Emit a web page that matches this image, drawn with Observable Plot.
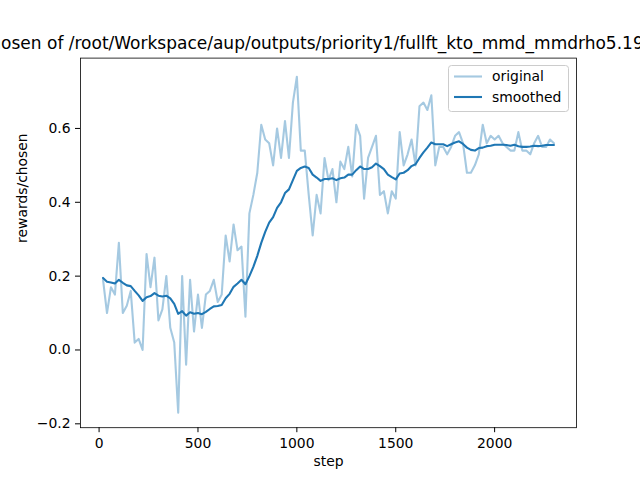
<!DOCTYPE html>
<html>
<head>
<meta charset="utf-8">
<script src="https://cdn.jsdelivr.net/npm/d3@7"></script>
<script src="https://cdn.jsdelivr.net/npm/@observablehq/plot@0.6"></script>
<style>
  body { margin: 0; background: #fff; overflow: hidden; }
  #chart svg { overflow: hidden; }
</style>
</head>
<body>
<div id="chart"></div>
<script>
const steps = [20,40,60,80,100,120,140,160,180,200,220,240,260,280,300,320,340,360,380,400,
  420,440,460,480,500,520,540,560,580,600,620,640,660,680,700,720,740,760,780,800,
  820,840,860,880,900,920,940,960,980,1000,1020,1040,1060,1080,1100,1120,1140,1160,1180,1200,
  1220,1240,1260,1280,1300,1320,1340,1360,1380,1400,1420,1440,1460,1480,1500,1520,1540,1560,1580,1600,
  1620,1640,1660,1680,1700,1720,1740,1760,1780,1800,1820,1840,1860,1880,1900,1920,1940,1960,1980,2000,
  2020,2040,2060,2080,2100,2120,2140,2160,2180,2200,2220,2240,2260,2280,2300];

const original = [0.19,0.10,0.17,0.15,0.29,0.10,0.12,0.16,0.02,0.03,
  0.00,0.26,0.17,0.25,0.08,0.11,0.20,0.06,0.02,-0.17,
  0.20,-0.04,0.19,0.05,0.15,0.06,0.15,0.16,0.19,0.13,
  0.15,0.31,0.24,0.34,0.27,0.28,0.09,0.37,0.42,0.48,
  0.61,0.57,0.56,0.50,0.60,0.52,0.62,0.52,0.67,0.74,
  0.54,0.54,0.42,0.31,0.42,0.37,0.52,0.46,0.49,0.40,
  0.51,0.49,0.55,0.47,0.61,0.58,0.41,0.52,0.55,0.58,
  0.42,0.43,0.37,0.43,0.41,0.59,0.50,0.53,0.57,0.50,
  0.66,0.67,0.65,0.69,0.50,0.55,0.55,0.53,0.55,0.58,
  0.59,0.56,0.48,0.48,0.50,0.53,0.61,0.56,0.58,0.57,
  0.58,0.56,0.55,0.54,0.54,0.59,0.54,0.54,0.53,0.56,
  0.58,0.55,0.55,0.57,0.56];

const smoothed = [0.195,0.185,0.183,0.180,0.190,0.182,0.175,0.173,0.160,0.148,
  0.133,0.143,0.146,0.154,0.147,0.145,0.147,0.140,0.125,0.098,
  0.105,0.093,0.102,0.098,0.100,0.097,0.103,0.111,0.118,0.119,
  0.122,0.140,0.152,0.171,0.180,0.190,0.178,0.200,0.225,0.255,
  0.290,0.320,0.345,0.360,0.385,0.400,0.425,0.435,0.460,0.485,
  0.493,0.497,0.493,0.475,0.467,0.458,0.463,0.463,0.465,0.460,
  0.465,0.467,0.475,0.475,0.487,0.497,0.490,0.490,0.495,0.505,
  0.498,0.490,0.475,0.468,0.462,0.478,0.480,0.487,0.498,0.503,
  0.520,0.535,0.548,0.562,0.557,0.557,0.557,0.552,0.557,0.562,
  0.565,0.558,0.548,0.542,0.540,0.547,0.548,0.552,0.553,0.556,
  0.556,0.556,0.555,0.553,0.556,0.552,0.550,0.550,0.551,0.553,
  0.552,0.553,0.555,0.555,0.555];

const xTicks = [0, 500, 1000, 1500, 2000];
const yTicks = [-0.2, 0.0, 0.2, 0.4, 0.6];
const title = "rewards/chosen of /root/Workspace/aup/outputs/priority1/fullft_kto_mmd_mmdrho5.19";

const data = steps.map((s, i) => ({step: s, original: original[i], smoothed: smoothed[i]}));
const blue = "#1f77b4";

const chart = Plot.plot({
  width: 640,
  height: 480,
  marginLeft: 80,
  marginRight: 64,
  marginTop: 57.6,
  marginBottom: 52.8,
  style: {fontFamily: "DejaVu Sans", fontSize: "13.9px", color: "black", background: "white"},
  x: {domain: [-94, 2414], ticks: xTicks, tickFormat: d3.format("d"), tickSize: 5, tickPadding: 5, label: null},
  y: {domain: [-0.2105, 0.7905], ticks: yTicks, tickFormat: d3.format(".1f"), tickSize: 5, tickPadding: 5, label: null},
  marks: [
    Plot.line(data, {x: "step", y: "original", stroke: blue, strokeOpacity: 0.4, strokeWidth: 2.1}),
    Plot.line(data, {x: "step", y: "smoothed", stroke: blue, strokeWidth: 2.1}),
    Plot.frame({stroke: "black", strokeWidth: 0.8}),
    Plot.text(["step"], {frameAnchor: "bottom", dy: 38, fontSize: 13.9}),
    Plot.text(["rewards/chosen"], {frameAnchor: "left", dx: -58, rotate: -90, fontSize: 13.9}),
    // title is wider than the figure, so it is cut at both edges like the original
    Plot.text([title], {frameAnchor: "top-left", textAnchor: "start", lineAnchor: "bottom", dx: -173, dy: -9, fontSize: 17})
  ]
});

// legend box in the upper right corner
const svg = d3.select(chart);
const lg = svg.append("g").attr("font-family", "DejaVu Sans").attr("font-size", "13.9px").attr("text-anchor", "start");
lg.append("rect").attr("x", 448.5).attr("y", 65.5).attr("width", 120).attr("height", 46)
  .attr("rx", 3).attr("fill", "white").attr("fill-opacity", 0.8).attr("stroke", "#cccccc");
const items = [{name: "original", op: 0.4}, {name: "smoothed", op: 1}];
items.forEach((d, i) => {
  const y = 76.5 + i * 20.5;
  lg.append("line").attr("x1", 454).attr("x2", 482).attr("y1", y).attr("y2", y)
    .attr("stroke", blue).attr("stroke-opacity", d.op).attr("stroke-width", 2.1);
  lg.append("text").attr("x", 492).attr("y", y).attr("dy", "0.35em").attr("fill", "black").text(d.name);
});

d3.select("#chart").append(() => chart);
</script>
</body>
</html>
